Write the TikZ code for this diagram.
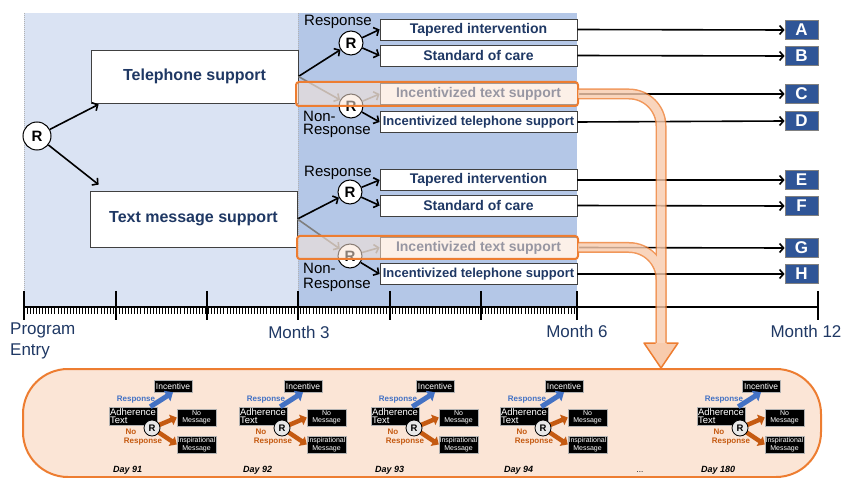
\documentclass[tikz,border=0pt]{standalone}
\usepackage{fontspec}
\setmainfont{Liberation Sans}
\usetikzlibrary{arrows.meta,calc}
\definecolor{navy}{HTML}{1F3864}
\definecolor{lblue}{HTML}{DAE3F3}
\definecolor{dblue}{HTML}{B4C7E7}
\definecolor{peach}{HTML}{FBE5D6}
\definecolor{pipefill}{HTML}{F8CBAD}
\definecolor{orng}{HTML}{ED7D31}
\definecolor{letterblue}{HTML}{2F5597}
\definecolor{mblue}{HTML}{4472C4}
\definecolor{morange}{HTML}{C55A11}
\definecolor{garrow}{HTML}{7F7F7F}
\tikzset{
  wbox/.style={draw=black!75, line width=0.8pt, fill=white, inner sep=0pt, text=navy,
    font=\bfseries\fontsize{14}{16}\selectfont, minimum width=197pt, minimum height=21pt},
  bigbox/.style={draw=black!75, line width=0.8pt, fill=white, inner sep=0pt, text=navy,
    font=\bfseries\fontsize{16}{18}\selectfont, minimum width=207pt},
  rc/.style={circle, draw=black, line width=1pt, fill=white, inner sep=0pt,
    font=\bfseries\fontsize{15}{16}\selectfont},
  arr/.style={draw=black, line width=1.6pt, -{Straight Barb[length=4pt,width=9pt]}},
  garr/.style={arr, draw=garrow},
  lbl/.style={font=\fontsize{15}{16}\selectfont, inner sep=0pt},
  mlbl/.style={font=\fontsize{17}{18}\selectfont, text=navy, inner sep=0pt},
  letter/.style={draw=gray, line width=0.8pt, fill=letterblue, text=white,
    font=\bfseries\fontsize{17}{17}\selectfont, minimum width=33pt, minimum height=19pt, inner sep=0pt},
  overlay/.style={draw=orng, line width=2pt, fill=peach, fill opacity=0.55, rounded corners=3pt},
  mblack/.style={fill=black, draw=gray!60, line width=0.5pt, text=white, inner sep=0.5pt},
  mcirc/.style={circle, draw=black, line width=0.8pt, fill=black!9, inner sep=0pt,
    minimum size=16pt, font=\bfseries\fontsize{9.5}{9.5}\selectfont},
  barr/.style={draw=mblue, line width=5pt, -{Triangle[length=7pt,width=12pt]}},
  oarr/.style={draw=morange, line width=4.5pt, -{Triangle[length=6pt,width=11pt]}},
  mtxt/.style={font=\bfseries\fontsize{8}{8}\selectfont, inner sep=0pt},
}
\begin{document}
\begin{tikzpicture}[x=1pt,y=-1pt]
\useasboundingbox (0,0) rectangle (843,478);
% background regions
\fill[lblue] (24,13) rectangle (298,307);
\fill[dblue] (298,13) rectangle (577,307);
\draw[gray!60, densely dotted, line width=1pt] (24,13) -- (24,291);
\draw[gray!60, densely dotted, line width=1pt] (298,13) -- (298,291);
% timeline
\draw[black, line width=1.5pt] (24,307) -- (818,307);
\foreach \i in {0,...,180} \draw[black, line width=0.5pt] (24+\i*3.0722,307) -- ++(0,7);
\foreach \x in {24,116,207,298,390,481,577,818} \draw[black, line width=1.5pt] (\x,291) -- (\x,320);
\node[mlbl, align=left, anchor=north west, font=\fontsize{17}{21}\selectfont] (pe) at (10,323) {Program\\Entry};
\node[mlbl] (m3) at (299,332) {Month 3};
\node[mlbl] (m6) at (577,331) {Month 6};
\node[mlbl] (m12) at (806,331) {Month 12};
% first level
\node[bigbox, minimum height=53pt] (tel) at (194.5,76.5) {Telephone support};
\node[bigbox, minimum height=56pt] (txt) at (193.5,219) {Text message support};
\node[rc, minimum size=28pt] (R0) at (37,136) {R};
\draw[arr] (R0) -- ($(tel.south west)+(8,1)$);
\draw[arr] (R0) -- ($(txt.north west)+(9,-6)$);
% second level boxes
\node[wbox] (tap1) at (478.5,29.5) {Tapered intervention};
\node[wbox] (std1) at (478.5,55.5) {Standard of care};
\node[wbox] (itx1) at (478.5,94) {Incentivized text support};
\node[wbox, font=\bfseries\fontsize{13}{15}\selectfont] (itl1) at (478.5,122) {Incentivized telephone support};
\node[wbox] (tap2) at (478.5,180) {Tapered intervention};
\node[wbox] (std2) at (478.5,205.5) {Standard of care};
\node[wbox] (itx2) at (478.5,247.5) {Incentivized text support};
\node[wbox, font=\bfseries\fontsize{13}{15}\selectfont] (itl2) at (478.5,274) {Incentivized telephone support};
% R circles
\node[rc, minimum size=24pt] (R1) at (351,43) {R};
\node[rc, minimum size=24pt] (R1b) at (351,106) {R};
\node[rc, minimum size=24pt] (R2) at (350,192) {R};
\node[rc, minimum size=24pt] (R2b) at (350,256) {R};
% labels
\node[lbl] (resp1) at (338,22) {Response};
\node[lbl, anchor=west] (non1) at (303,116) {Non-};
\node[lbl, anchor=west] (nresp1) at (303,131) {Response};
\node[lbl] (resp2) at (338,173) {Response};
\node[lbl, anchor=west] (non2) at (303,268) {Non-};
\node[lbl, anchor=west] (nresp2) at (303,285) {Response};
% arrows
\draw[arr] (tel.east) -- (R1);
\draw[garr] (tel.east) -- (R1b);
\draw[arr] (R1) -- (tap1.west);
\draw[arr] (R1) -- (std1.west);
\draw[garr] (R1b) -- (itx1.west);
\draw[arr] (R1b) -- (itl1.west);
\draw[arr] (txt.east) -- (R2);
\draw[garr] (txt.east) -- (R2b);
\draw[arr] (R2) -- (tap2.west);
\draw[arr] (R2) -- (std2.west);
\draw[garr] (R2b) -- (itx2.west);
\draw[arr] (R2b) -- (itl2.west);
% letters
\node[letter] (A) at (801.5,30) {A};
\node[letter] (B) at (801.5,56) {B};
\node[letter] (C) at (801.5,94) {C};
\node[letter] (D) at (801.5,121) {D};
\node[letter] (E) at (801.5,180) {E};
\node[letter] (F) at (801.5,206) {F};
\node[letter] (G) at (801.5,248) {G};
\node[letter] (H) at (801.5,274) {H};
\draw[arr] (tap1.east) -- (A.west);
\draw[arr] (std1.east) -- (B.west);
\draw[arr] (itx1.east) -- (C.west);
\draw[arr] (itl1.east) -- (D.west);
\draw[arr] (tap2.east) -- (E.west);
\draw[arr] (std2.east) -- (F.west);
\draw[arr] (itx2.east) -- (G.west);
\draw[arr] (itl2.east) -- (H.west);
% overlays
\draw[overlay] (296,82) rectangle (578,106);
\draw[overlay] (297,236) rectangle (578,259);
\coordinate (ov1) at (578,94);
\coordinate (ov2) at (578,247.5);
\coordinate (pend) at (661,345);
% pipes
\begin{scope}[transparency group, opacity=0.8]
\draw[orng, line width=11pt, rounded corners=32pt] (ov1) -| (pend);
\draw[orng, line width=11pt, rounded corners=32pt] (ov2) -| (pend);
\draw[pipefill, line width=8pt, rounded corners=32pt] (ov1) -| (pend);
\draw[pipefill, line width=8pt, rounded corners=32pt] (ov2) -| (pend);
\end{scope}
% bottom panel
\draw[orng, fill=peach, line width=2pt, rounded corners=45pt] (23,369) rectangle (821,477);
\fill[pipefill] (655.5,343) -- (644,343) -- (661,368) -- (678,343) -- (666.5,343) -- cycle;
\draw[orng, line width=1.5pt, line join=round] (655.5,343) -- (644,343) -- (661,368) -- (678,343) -- (666.5,343);
% mini diagrams
\foreach \dx/\d in {0/91,130/92,262/93,391/94,588/180}{
  \node[mblack, minimum width=38pt, minimum height=12pt, font=\fontsize{8.5}{9}\selectfont] (inc\d) at (173+\dx,386) {Incentive};
  \node[mblack, minimum width=48pt, minimum height=18pt, align=left, font=\fontsize{9.5}{8.5}\selectfont] (adh\d) at (133+\dx,416) {Adherence\\Text};
  \node[mblack, minimum width=39pt, minimum height=17pt, align=center, font=\fontsize{7}{7.5}\selectfont] (nom\d) at (196.5+\dx,417.5) {No\\Message};
  \node[mblack, minimum width=39pt, minimum height=17pt, align=center, font=\fontsize{7}{7.5}\selectfont] (insp\d) at (196.5+\dx,444.5) {Inspirational\\Message};
  \draw[barr] ($(adh\d.north east)+(-7,0)$) -- (inc\d.south);
  \draw[oarr] (152+\dx,428) -- (nom\d.west);
  \draw[oarr] (152+\dx,428) -- (insp\d.west);
  \node[mcirc] (mr\d) at (152+\dx,428) {R};
  \node[mtxt, text=mblue] (rsp\d) at (136+\dx,400) {Response};
  \node[mtxt, text=morange] (no\d) at (131+\dx,432) {No};
  \node[mtxt, text=morange] (nr\d) at (143+\dx,442) {Response};
  \node[anchor=west, font=\bfseries\itshape\fontsize{9}{10}\selectfont, inner sep=0pt] (day\d) at (113+\dx,470) {Day \d};
}
\node[font=\fontsize{8}{9}\selectfont, inner sep=0pt] (dots) at (640,472) {...};
\end{tikzpicture}
\end{document}
